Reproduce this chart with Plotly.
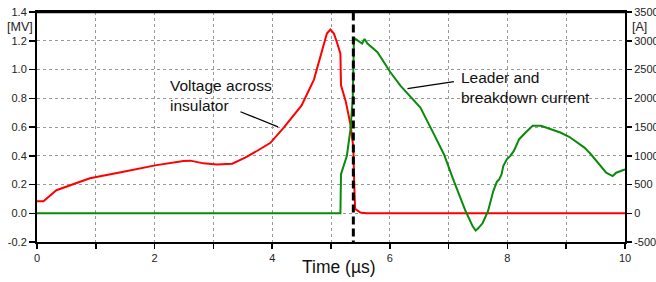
import plotly.graph_objects as go

# Voltage across insulator [MV]
v_time = [0.0, 0.11, 0.33, 0.9, 1.47, 2.01, 2.49, 2.61, 2.83, 3.06, 3.32, 3.54, 3.74, 3.97,
          4.2, 4.5, 4.71, 4.82, 4.93, 4.99, 5.05, 5.1, 5.16, 5.17, 5.25, 5.33, 5.38, 5.39,
          5.41, 5.5, 5.6, 10.0]
v_mv = [0.083, 0.083, 0.16, 0.243, 0.289, 0.333, 0.364, 0.366, 0.347, 0.34, 0.345, 0.387, 0.433, 0.49,
        0.597, 0.75, 0.93, 1.1, 1.25, 1.278, 1.25, 1.19, 1.11, 0.89, 0.78, 0.62, 0.46, 0.27,
        0.03, 0.005, 0.0, 0.0]

# Leader and breakdown current [A]
i_time = [0.0, 5.16, 5.17, 5.27, 5.33, 5.37, 5.39, 5.45, 5.53, 5.57, 5.62, 5.79, 6.01, 6.18,
          6.52, 6.75, 6.92, 7.09, 7.29, 7.41, 7.46, 7.5, 7.58, 7.67, 7.73, 7.76, 7.82, 7.86,
          7.9, 7.93, 7.99, 8.05, 8.11, 8.2, 8.31, 8.43, 8.57, 8.9, 9.05, 9.31, 9.42, 9.59,
          9.68, 9.79, 9.85, 10.0]
i_amp = [0, 0, 680, 1000, 1450, 2000, 3050, 3000, 2950, 3030, 2950, 2800, 2452, 2220,
         1840, 1376, 1026, 559, 35, -227, -302, -267, -170, 35, 267, 385, 547, 589,
         676, 822, 938, 997, 1084, 1288, 1404, 1521, 1521, 1404, 1330, 1142, 1026, 822,
         705, 647, 705, 764]

breakdown_time = 5.38

left_ticks = [-0.2, 0.0, 0.2, 0.4, 0.6, 0.8, 1.0, 1.2, 1.4]
left_labels = ["-0.2", "0.0", "0.2", "0.4", "0.6", "0.8", "1.0", "1.2", "1.4"]
right_ticks = [-500, 0, 500, 1000, 1500, 2000, 2500, 3000, 3500]
right_labels = ["-500", "0", "500", "1000", "1500", "2000", "2500", "3000", "3500"]
x_ticks = list(range(0, 11))
x_labels = [str(t) if t % 2 == 0 else "" for t in x_ticks]

FONT = "Arial, Liberation Sans, sans-serif"
RED = "#ff0000"
GREEN = "#0a8a0a"

fig = go.Figure()
fig.add_trace(go.Scatter(x=i_time, y=i_amp, mode="lines", yaxis="y2",
                         line=dict(color=GREEN, width=2), hoverinfo="skip"))
fig.add_trace(go.Scatter(x=v_time, y=v_mv, mode="lines", yaxis="y",
                         line=dict(color=RED, width=2), hoverinfo="skip"))

fig.update_layout(
    width=656, height=282,
    margin=dict(l=37, r=31, t=12, b=40, autoexpand=False),
    paper_bgcolor="white", plot_bgcolor="white",
    showlegend=False,
    font=dict(family=FONT, size=11, color="#222"),
    xaxis=dict(range=[0, 10], tickvals=x_ticks, ticktext=x_labels, automargin=False,
               showline=True, linecolor="black", linewidth=2, mirror=True,
               ticks="outside", ticklen=5, tickwidth=1.5, tickcolor="black",
               showgrid=True, gridcolor="#999", gridwidth=1, griddash="dot",
               zeroline=False, tickfont=dict(size=11, color="#222"),
               ticklabeloverflow="allow"),
    yaxis=dict(range=[-0.2, 1.4], tickvals=left_ticks, ticktext=left_labels, automargin=False,
               showline=True, linecolor="black", linewidth=2,
               ticks="outside", ticklen=6, tickwidth=1.5, tickcolor="black",
               showgrid=True, gridcolor="#999", gridwidth=1, griddash="dot",
               zeroline=False, tickfont=dict(size=11, color="#222"),
               ticklabeloverflow="allow"),
    yaxis2=dict(range=[-500, 3500], tickvals=right_ticks, ticktext=right_labels, automargin=False,
                overlaying="y", side="right",
                showline=True, linecolor="black", linewidth=2,
                ticks="outside", ticklen=5, tickwidth=1.5, tickcolor="black",
                showgrid=False, zeroline=False, tickfont=dict(size=11, color="#222"),
                ticklabeloverflow="allow"),
)

# top frame line of the plot area
fig.add_shape(type="line", xref="paper", yref="paper", x0=0, x1=1, y0=1, y1=1,
              line=dict(color="black", width=2.5), layer="above")

# breakdown instant
fig.add_shape(type="line", xref="x", yref="y", x0=breakdown_time, x1=breakdown_time,
              y0=-0.245, y1=1.4, line=dict(color="black", width=3, dash="8px,4px"),
              layer="above")

# annotation pointer lines
fig.add_shape(type="line", xref="x", yref="y", x0=3.46, y0=0.706, x1=4.10, y1=0.601,
              line=dict(color="black", width=1.2))
fig.add_shape(type="line", xref="x", yref="y", x0=6.30, y0=0.867, x1=7.09, y1=0.916,
              line=dict(color="black", width=1.2))

fig.add_annotation(x=2.23, y=0.818, xref="x", yref="y", text="Voltage across<br>insulator",
                   showarrow=False, xanchor="left", yanchor="middle", align="left",
                   font=dict(family=FONT, size=15.5, color="#111"))
fig.add_annotation(x=7.17, y=0.874, xref="x", yref="y", text="Leader and<br>breakdown current",
                   showarrow=False, xanchor="left", yanchor="middle", align="left",
                   font=dict(family=FONT, size=15.5, color="#111"))

# axis unit labels and title
fig.add_annotation(x=-0.029, y=0.935, xref="paper", yref="paper", text="[MV]",
                   showarrow=False, xanchor="center", yanchor="middle",
                   font=dict(family=FONT, size=12.5, color="#222"))
fig.add_annotation(x=1.0255, y=0.935, xref="paper", yref="paper", text="[A]",
                   showarrow=False, xanchor="center", yanchor="middle",
                   font=dict(family=FONT, size=12.5, color="#222"))
fig.add_annotation(x=0.514, y=-0.109, xref="paper", yref="paper", text="Time (µs)",
                   showarrow=False, xanchor="center", yanchor="middle",
                   font=dict(family=FONT, size=17.5, color="#111"))

# remove the default page margin so the figure sits at the window's corner
fig.write_html("out.html",
               config={"displayModeBar": False, "staticPlot": True},
               post_script="document.body.style.margin='0';document.body.style.overflow='hidden';")
